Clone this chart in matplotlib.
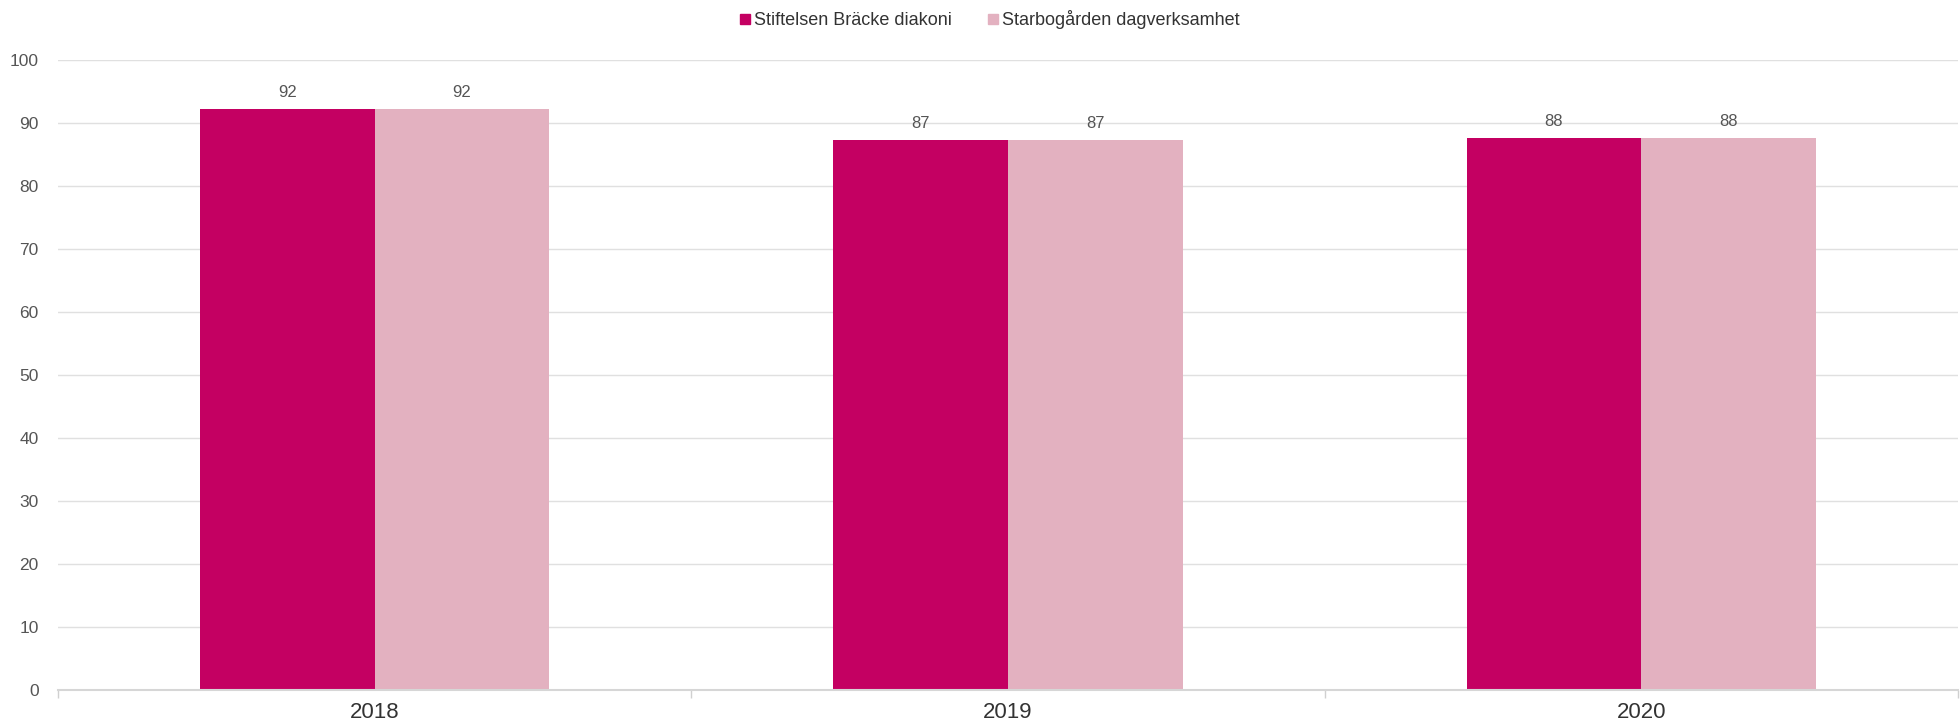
import numpy as np
import matplotlib.pyplot as plt
from matplotlib.patches import Patch

years = ["2018", "2019", "2020"]
series_names = ["Stiftelsen Bräcke diakoni", "Starbogården dagverksamhet"]
braecke = [92.1, 87.2, 87.5]
starbo = [92.1, 87.2, 87.5]
colors = ["#C40062", "#E3B1C0"]

plt.rcParams['font.family'] = ['Liberation Sans', 'DejaVu Sans']

fig = plt.figure(figsize=(19.6, 7.28), dpi=100)
ax = fig.add_axes([58 / 1960, 1 - 690 / 728, 1900 / 1960, (690 - 59.5) / 728])

x = np.arange(len(years))
w = 0.276
for i, (vals, col) in enumerate(zip([braecke, starbo], colors)):
    pos = x + (i - 0.5) * w
    ax.bar(pos, vals, width=w, color=col, zorder=2)
    for px, v in zip(pos, vals):
        ax.text(px, v + 1.4, f"{v:.0f}", ha="center", va="bottom",
                fontsize=12, color="#555555")

ax.set_xlim(-0.5, len(years) - 0.5)
ax.set_ylim(0, 100)
ax.set_yticks(np.arange(0, 101, 10))
ax.yaxis.grid(True, color="#e0e0e0", linewidth=1, zorder=0)
ax.tick_params(axis="y", length=0, labelsize=12.5, labelcolor="#555555", pad=14)

ax.set_xticks(x)
ax.set_xticklabels(years)
ax.tick_params(axis="x", length=0, labelsize=16, labelcolor="#333333", pad=9)
ax.set_xticks(np.arange(-0.5, len(years)), minor=True)
ax.tick_params(axis="x", which="minor", length=6, color="#d0d0d0", width=1)

for s in ["top", "right", "left"]:
    ax.spines[s].set_visible(False)
ax.spines["bottom"].set_color("#d6d6d6")
ax.spines["bottom"].set_linewidth(1.5)

handles = [Patch(color=c, label=n) for c, n in zip(colors, series_names)]
fig.legend(handles=handles, loc="upper center", bbox_to_anchor=(0.505, 1.008),
           ncol=2, frameon=False, fontsize=13, handlelength=0.55,
           handleheight=0.55, handletextpad=0.2, columnspacing=2.0,
           labelcolor="#333333")

plt.savefig("out.png", dpi=100)
